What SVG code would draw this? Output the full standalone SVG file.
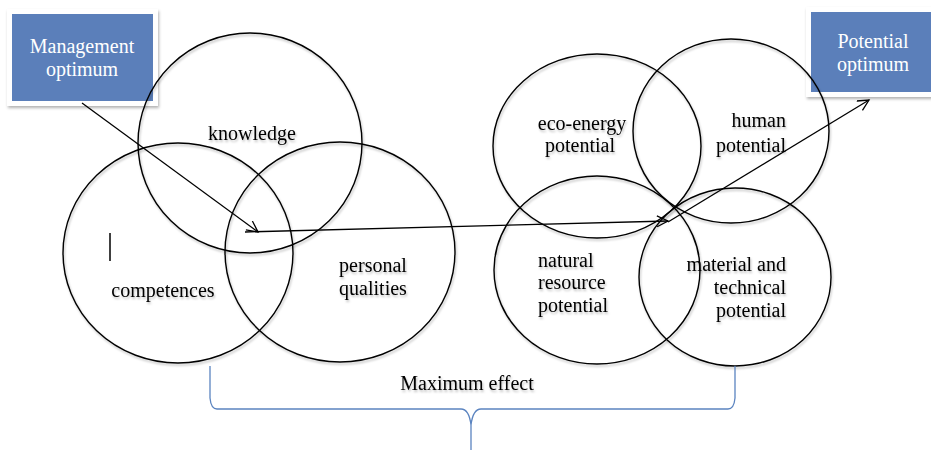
<svg xmlns="http://www.w3.org/2000/svg" width="931" height="450" viewBox="0 0 931 450">
<style>
.c{fill:none;stroke:#000;stroke-width:1.4}
.t{font-family:"Liberation Serif","Times New Roman",serif;font-size:20px;fill:#000}
.bt{font-family:"Liberation Serif","Times New Roman",serif;font-size:20px;fill:#fff;text-anchor:middle}
.box{fill:#5b7fba}
.frame{fill:#fff}
.a{fill:none;stroke:#000;stroke-width:1.3}
.br{fill:none;stroke:#5b84c0;stroke-width:1.3}
</style>
<defs>
<filter id="sh" x="-10%" y="-10%" width="130%" height="140%">
<feDropShadow dx="1" dy="2" stdDeviation="1.5" flood-color="#000" flood-opacity="0.3"/>
</filter>
<filter id="tsh" x="-10%" y="-20%" width="130%" height="160%">
<feDropShadow dx="1" dy="2" stdDeviation="1.2" flood-color="#000" flood-opacity="0.25"/>
</filter>
<marker id="ah" markerUnits="userSpaceOnUse" markerWidth="14" markerHeight="14" refX="12" refY="6" orient="auto">
<path d="M1,0.5 L12,6 L1,11.5" fill="none" stroke="#000" stroke-width="1.3"/>
</marker>
</defs>

<g id="management-optimum">
<rect class="frame" x="7" y="9" width="151" height="97" filter="url(#sh)"/>
<rect class="box" x="12" y="14" width="141" height="87"/>
<text class="bt" x="82" y="53">Management</text>
<text class="bt" x="82" y="76">optimum</text>
</g>

<g id="potential-optimum">
<rect class="frame" x="806" y="7" width="140" height="90" filter="url(#sh)"/>
<rect class="box" x="811" y="12" width="130" height="80"/>
<text class="bt" x="873" y="48">Potential</text>
<text class="bt" x="873" y="71">optimum</text>
</g>

<g id="knowledge" filter="url(#tsh)">
<ellipse class="c" cx="250" cy="143" rx="112" ry="110"/>
<text class="t" x="252" y="140" text-anchor="middle">knowledge</text>
</g>

<g id="competences" filter="url(#tsh)">
<ellipse class="c" cx="178" cy="253" rx="115" ry="110"/>
<text class="t" x="163" y="297" text-anchor="middle">competences</text>
</g>

<g id="personal-qualities" filter="url(#tsh)">
<ellipse class="c" cx="340" cy="252" rx="115" ry="110"/>
<text class="t" x="373" y="272" text-anchor="middle">personal</text>
<text class="t" x="373" y="295" text-anchor="middle">qualities</text>
</g>

<g id="eco-energy-potential" filter="url(#tsh)">
<ellipse class="c" cx="597" cy="146" rx="104" ry="92"/>
<text class="t" x="582" y="130" text-anchor="middle">eco-energy</text>
<text class="t" x="580" y="152" text-anchor="middle">potential</text>
</g>

<g id="human-potential" filter="url(#tsh)">
<ellipse class="c" cx="731" cy="131" rx="98" ry="92"/>
<text class="t" x="786" y="127" text-anchor="end">human</text>
<text class="t" x="786" y="152" text-anchor="end">potential</text>
</g>

<g id="natural-resource-potential" filter="url(#tsh)">
<ellipse class="c" cx="597" cy="270" rx="103" ry="94"/>
<text class="t" x="538" y="267">natural</text>
<text class="t" x="538" y="289">resource</text>
<text class="t" x="538" y="312">potential</text>
</g>

<g id="material-technical-potential" filter="url(#tsh)">
<ellipse class="c" cx="735" cy="277" rx="96" ry="89"/>
<text class="t" x="786" y="271" text-anchor="end">material and</text>
<text class="t" x="786" y="294" text-anchor="end">technical</text>
<text class="t" x="786" y="317" text-anchor="end">potential</text>
</g>

<g id="connectors">
<line class="a" x1="82" y1="103" x2="258" y2="232" marker-end="url(#ah)"/>
<line class="a" x1="245" y1="232" x2="668" y2="221" marker-end="url(#ah)"/>
<line class="a" x1="668" y1="222" x2="869" y2="100" marker-end="url(#ah)"/>
</g>

<line x1="110" y1="233" x2="110" y2="261" stroke="#000" stroke-width="1.5"/>

<g id="maximum-effect">
<path class="br" d="M210,366 L210,398 Q211,409 217,409 L461,409 Q469,409 471,425 L471,450 M471,425 Q473,409 481,409 L728,409 Q734,409 735,398 L735,366"/>
<text class="t" x="467" y="390" text-anchor="middle" filter="url(#tsh)">Maximum effect</text>
</g>
</svg>
